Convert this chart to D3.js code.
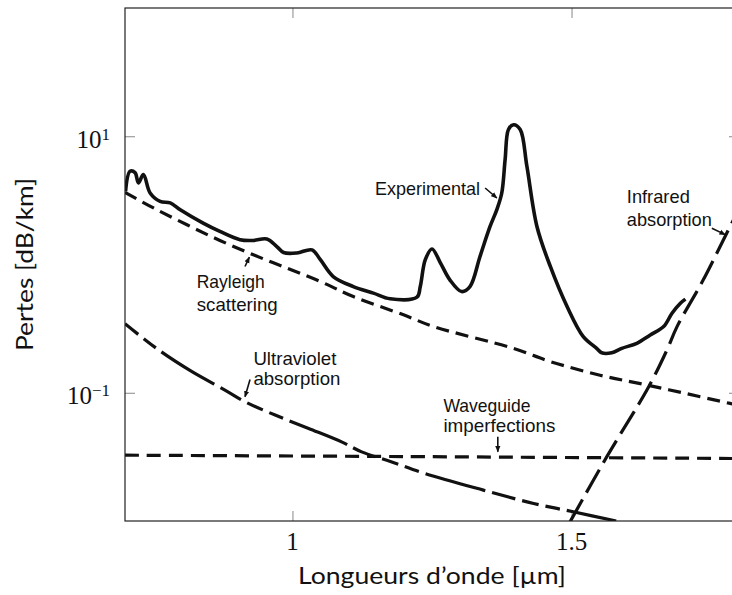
<!DOCTYPE html>
<html>
<head>
<meta charset="utf-8">
<script src="https://cdn.jsdelivr.net/npm/d3@7"></script>
<style>
html, body { margin: 0; padding: 0; background: #fff; }
svg { display: block; }
</style>
</head>
<body>
<script>
// values: wavelength in µm, losses in dB/km
var expWl   = [0.701, 0.709, 0.718, 0.724, 0.733, 0.745, 0.763, 0.781, 0.799, 0.840, 0.870, 0.906, 0.930, 0.954, 0.972, 0.984, 1.008, 1.035, 1.050, 1.073, 1.109, 1.145, 1.175, 1.223, 1.229, 1.238, 1.250, 1.265, 1.282, 1.303, 1.318, 1.336, 1.354, 1.366, 1.375, 1.381, 1.387, 1.396, 1.408, 1.420, 1.438, 1.462, 1.492, 1.521, 1.545, 1.554, 1.572, 1.590, 1.617, 1.641, 1.665, 1.680, 1.695, 1.704];
var expLoss = [3.72, 5.33, 5.20, 4.33, 5.02, 3.61, 3.10, 3.02, 2.67, 2.10, 1.81, 1.56, 1.54, 1.58, 1.38, 1.24, 1.23, 1.30, 1.09, 0.806, 0.673, 0.598, 0.540, 0.556, 0.673, 1.09, 1.32, 1.03, 0.759, 0.615, 0.673, 1.155, 1.98, 2.67, 3.61, 6.58, 11.3, 12.3, 11.3, 5.83, 1.98, 0.965, 0.470, 0.274, 0.222, 0.205, 0.205, 0.222, 0.243, 0.282, 0.328, 0.417, 0.499, 0.537];

var rayWl   = [0.700, 0.751, 0.811, 0.870, 0.930, 0.990, 1.050, 1.109, 1.199, 1.253, 1.396, 1.462, 1.551, 1.635, 1.731, 1.784, 1.800];
var rayLoss = [3.65, 2.76, 2.04, 1.54, 1.19, 0.938, 0.736, 0.562, 0.405, 0.328, 0.222, 0.175, 0.137, 0.115, 0.093, 0.0826, 0.080];

var uvWl   = [0.700, 0.760, 0.820, 0.879, 0.915, 0.969, 1.029, 1.088, 1.124, 1.178, 1.238, 1.342, 1.432, 1.503, 1.580];
var uvLoss = [0.345, 0.216, 0.146, 0.105, 0.0851, 0.0670, 0.0527, 0.0414, 0.0346, 0.0289, 0.0234, 0.0174, 0.0137, 0.0118, 0.0100];

var wgWl   = [0.700, 1.200, 1.800];
var wgLoss = [0.0326, 0.0318, 0.0307];

var irWl   = [1.497, 1.563, 1.638, 1.671, 1.689, 1.736, 1.784, 1.800];
var irLoss = [0.0098, 0.0316, 0.111, 0.216, 0.328, 0.759, 1.98, 2.70];

var xTicks = [1, 1.5];
var yTicks = [0.1, 10];
var yTickExp = ["\u22121", "1"];

var xTitle = "Longueurs d\u2019onde [\u00b5m]";
var yTitle = "Pertes [dB/km]";

// annotations (text lines, anchor in data units, arrow from/to in data units)
var noteLines = [["Experimental"], ["Rayleigh", "scattering"], ["Ultraviolet", "absorption"], ["Waveguide", "imperfections"], ["Infrared", "absorption"]];
var noteWl    = [1.148, 0.8285, 0.930, 1.2704, 1.599];
var noteLoss  = [3.50, 0.655, 0.164, 0.0711, 3.02];
var arrowFrom = [[1.3452, 3.95], [0.915, 0.965], [0.924, 0.127], [1.3679, 0.0453], [1.7514, 1.92]];
var arrowTo   = [[1.3662, 3.30], [0.9228, 1.14], [0.915, 0.093], [1.3679, 0.0346], [1.7753, 1.71]];

// layout
var W = 732, H = 595;
var plotL = 125, plotR = 739, plotT = 8, plotB = 521;
var noteLead   = [0, 23, 20, 20, 23];
var noteWidths = [[105], [68, 81], [83, 87], [87, 112], [63, 85]];

var svg = d3.select("body")
    .append("svg")
    .attr("width", W)
    .attr("height", H);

var x = d3.scaleLinear().domain([0.7, 1.8]).range([plotL, plotR]);
var y = d3.scaleLog().domain([0.01, 100]).range([plotB, plotT]);

var defs = svg.append("defs");
defs.append("clipPath")
    .attr("id", "plot-clip")
    .append("rect")
    .attr("x", plotL).attr("y", plotT)
    .attr("width", plotR - plotL).attr("height", plotB - plotT);

defs.append("marker")
    .attr("id", "head")
    .attr("viewBox", "0 0 10 10")
    .attr("refX", 9).attr("refY", 5)
    .attr("markerWidth", 4).attr("markerHeight", 4)
    .attr("orient", "auto")
    .append("path")
    .attr("d", "M0,1 L10,5 L0,9 Z")
    .attr("fill", "#111");

// ticks (pointing inward, on all four sides)
function styleAxis(g) {
    g.select(".domain").remove();
    g.selectAll(".tick line").attr("stroke", "#888").attr("stroke-width", 1);
    g.selectAll(".tick text").remove();
}

svg.append("g").attr("transform", "translate(0," + plotB + ")")
    .call(d3.axisBottom(x).tickValues(xTicks).tickSizeInner(-10).tickSizeOuter(0))
    .call(styleAxis);
svg.append("g").attr("transform", "translate(0," + plotT + ")")
    .call(d3.axisTop(x).tickValues(xTicks).tickSizeInner(-10).tickSizeOuter(0))
    .call(styleAxis);
svg.append("g").attr("transform", "translate(" + plotL + ",0)")
    .call(d3.axisLeft(y).tickValues(yTicks).tickSizeInner(-10).tickSizeOuter(0))
    .call(styleAxis);
svg.append("g").attr("transform", "translate(" + plotR + ",0)")
    .call(d3.axisRight(y).tickValues(yTicks).tickSizeInner(-10).tickSizeOuter(0))
    .call(styleAxis);

// tick labels
svg.append("g").selectAll("text")
    .data(xTicks)
    .enter().append("text")
    .attr("x", function (d) { return x(d); })
    .attr("y", plotB + 29)
    .attr("text-anchor", "middle")
    .style("font-family", "'Liberation Serif', 'DejaVu Serif', serif")
    .style("font-size", "25px")
    .style("fill", "#111")
    .text(function (d) { return d3.format("")(d); });

var yLab = svg.append("g").selectAll("text")
    .data(yTicks)
    .enter().append("text")
    .attr("x", 110)
    .attr("y", function (d) { return y(d) + 11.5; })
    .attr("text-anchor", "end")
    .style("font-family", "'Liberation Serif', 'DejaVu Serif', serif")
    .style("font-size", "25px")
    .style("fill", "#111");
yLab.append("tspan").text("10");
yLab.append("tspan")
    .attr("dy", -8)
    .style("font-size", "17px")
    .text(function (d, i) { return yTickExp[i]; });

// curves
var line = d3.line()
    .x(function (d) { return x(d[0]); })
    .y(function (d) { return y(d[1]); })
    .curve(d3.curveCatmullRom.alpha(0.5));

function pairs(a, b) {
    return a.map(function (v, i) { return [v, b[i]]; });
}

var curves = svg.append("g").attr("clip-path", "url(#plot-clip)");

curves.append("path")
    .attr("d", line(pairs(wgWl, wgLoss)))
    .attr("fill", "none").attr("stroke", "#111")
    .attr("stroke-width", 3.2).attr("stroke-dasharray", "14,8");

curves.append("path")
    .attr("d", line(pairs(uvWl, uvLoss)))
    .attr("fill", "none").attr("stroke", "#111")
    .attr("stroke-width", 3.2).attr("stroke-dasharray", "17,7,15,7,62,7,24,7");

curves.append("path")
    .attr("d", line(pairs(rayWl, rayLoss)))
    .attr("fill", "none").attr("stroke", "#111")
    .attr("stroke-width", 3.2).attr("stroke-dasharray", "13,7");

curves.append("path")
    .attr("d", line(pairs(irWl, irLoss)))
    .attr("fill", "none").attr("stroke", "#111")
    .attr("stroke-width", 3.2).attr("stroke-dasharray", "26,8");

curves.append("path")
    .attr("d", line(pairs(expWl, expLoss)))
    .attr("fill", "none").attr("stroke", "#111")
    .attr("stroke-width", 3.6).attr("stroke-linejoin", "round");

// frame
svg.append("rect")
    .attr("x", plotL).attr("y", plotT)
    .attr("width", plotR - plotL).attr("height", plotB - plotT)
    .attr("fill", "none").attr("stroke", "#222").attr("stroke-width", 1.2);

// annotations
noteLines.forEach(function (lines, i) {
    var t = svg.append("text")
        .attr("x", x(noteWl[i]))
        .attr("y", y(noteLoss[i]))
        .style("font-family", "'Liberation Sans', Arial, sans-serif")
        .style("font-size", "19px")
        .style("fill", "#111");
    lines.forEach(function (s, j) {
        t.append("tspan")
            .attr("x", x(noteWl[i]))
            .attr("dy", j === 0 ? 0 : noteLead[i])
            .attr("textLength", noteWidths[i][j])
            .attr("lengthAdjust", "spacingAndGlyphs")
            .text(s);
    });
    svg.append("line")
        .attr("x1", x(arrowFrom[i][0])).attr("y1", y(arrowFrom[i][1]))
        .attr("x2", x(arrowTo[i][0])).attr("y2", y(arrowTo[i][1]))
        .attr("stroke", "#111").attr("stroke-width", 1.6)
        .attr("marker-end", "url(#head)");
});

// axis titles
svg.append("text")
    .attr("x", (plotL + plotR) / 2)
    .attr("y", 584)
    .attr("text-anchor", "middle")
    .attr("textLength", 268)
    .attr("lengthAdjust", "spacingAndGlyphs")
    .style("font-family", "Lato, 'Open Sans', sans-serif")
    .style("font-size", "24px")
    .style("fill", "#111")
    .text(xTitle);

svg.append("text")
    .attr("transform", "translate(33," + (plotT + plotB) / 2 + ") rotate(-90)")
    .attr("text-anchor", "middle")
    .attr("textLength", 173)
    .attr("lengthAdjust", "spacingAndGlyphs")
    .style("font-family", "Lato, 'Open Sans', sans-serif")
    .style("font-size", "24px")
    .style("fill", "#111")
    .text(yTitle);
</script>
</body>
</html>
